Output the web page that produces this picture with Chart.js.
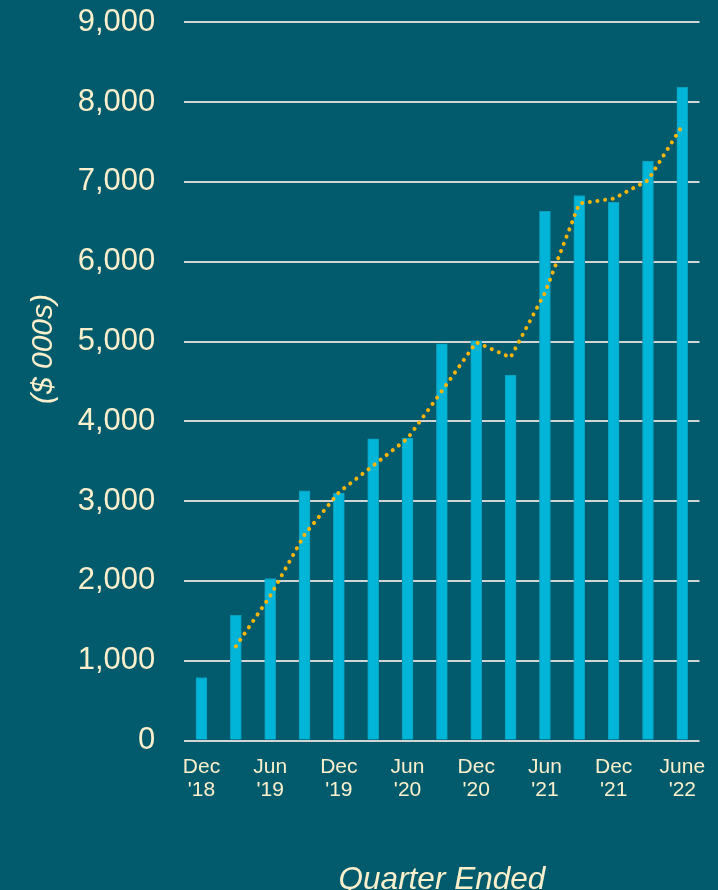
<!DOCTYPE html>
<html>
<head>
<meta charset="utf-8">
<script src="https://cdn.jsdelivr.net/npm/chart.js@4/dist/chart.umd.min.js"></script>
<style>
  html, body { margin: 0; padding: 0; background: #015b6c; }
  #wrap { width: 718px; height: 890px; position: relative; }
</style>
</head>
<body>
<div id="wrap"><canvas id="c" width="718" height="890"></canvas></div>
<script>
// Quarters (categories)
const quarters = ["Dec '18","Mar '19","Jun '19","Sep '19","Dec '19","Mar '20","Jun '20","Sep '20",
                  "Dec '20","Mar '21","Jun '21","Sep '21","Dec '21","Mar '22","June '22"];
// Quarterly values ($ 000s)
const quarterValues = [790, 1570, 2030, 3130, 3100, 3780, 3790, 4970, 5010, 4580, 6630, 6830, 6745, 7260, 8185];
// Dotted trend line values
const trendValues = [null, 1180, 1810, 2580, 3110, 3445, 3785, 4380, 4990, 4800, 5610, 6730, 6790, 7020, 7705];
// X tick labels (every other quarter)
const xTickLabels = [["Dec","'18"], "", ["Jun","'19"], "", ["Dec","'19"], "", ["Jun","'20"], "",
                     ["Dec","'20"], "", ["Jun","'21"], "", ["Dec","'21"], "", ["June","'22"]];
// Y axis
const yMin = 0, yMax = 9000, yStep = 1000;
const yTitle = "($ 000s)";
const xTitle = "Quarter Ended";

const BG = '#015b6c';
const TEXT = '#fcf0cc';
const FONT = "'Liberation Sans', Arial, sans-serif";

const bgPlugin = {
  id: 'bg',
  beforeDraw(chart) {
    const ctx = chart.ctx;
    ctx.save();
    ctx.fillStyle = BG;
    ctx.fillRect(0, 0, chart.width, chart.height);
    ctx.restore();
  }
};

const yTitlePlugin = {
  id: 'ytitle',
  afterDraw(chart) {
    const ctx = chart.ctx;
    ctx.save();
    ctx.translate(44, 349);
    ctx.rotate(-Math.PI / 2);
    ctx.fillStyle = TEXT;
    ctx.font = "italic 30px " + FONT;
    ctx.textAlign = 'center';
    ctx.textBaseline = 'middle';
    ctx.fillText(yTitle, 0, 0);
    ctx.restore();
  }
};

new Chart(document.getElementById('c'), {
  data: {
    labels: quarters,
    datasets: [
      {
        type: 'line',
        data: trendValues,
        borderColor: '#f9b50a',
        borderWidth: 4,
        borderDash: [0.1, 7.6],
        borderCapStyle: 'round',
        pointRadius: 0,
        tension: 0,
        fill: false,
        spanGaps: false,
        order: 0
      },
      {
        type: 'bar',
        data: quarterValues,
        backgroundColor: '#00b5d7',
        borderColor: '#0a9dbb',
        borderWidth: 1,
        barThickness: 11,
        order: 1
      }
    ]
  },
  options: {
    responsive: false,
    animation: false,
    devicePixelRatio: 1,
    layout: { padding: { top: 22.3, right: 18.5, left: 0, bottom: 0 } },
    plugins: { legend: { display: false }, tooltip: { enabled: false } },
    scales: {
      x: {
        offset: true,
        grid: { display: true, drawOnChartArea: false, drawTicks: true, tickLength: 15, tickColor: 'rgba(0,0,0,0)' },
        border: { display: false },
        ticks: {
          autoSkip: false,
          maxRotation: 0,
          minRotation: 0,
          padding: 0,
          color: TEXT,
          font: { family: FONT, size: 21, lineHeight: 1.1 },
          callback: (v, i) => xTickLabels[i]
        },
        title: {
          display: true,
          text: xTitle,
          color: TEXT,
          font: { family: FONT, size: 31.5, style: 'italic', lineHeight: 0.6 },
          padding: 0
        },
        afterFit: (s) => { s.height = 149.5; }
      },
      y: {
        min: yMin,
        max: yMax,
        grid: { color: '#d4d4d4', lineWidth: 2, drawTicks: true, tickLength: 29, tickColor: 'rgba(0,0,0,0)' },
        border: { display: false },
        ticks: {
          stepSize: yStep,
          padding: 0,
          color: TEXT,
          font: { family: FONT, size: 31 },
          callback: (v) => v.toLocaleString('en-US')
        },
        afterFit: (s) => { s.width = 184.3; }
      }
    }
  },
  plugins: [bgPlugin, yTitlePlugin]
});
</script>
</body>
</html>
